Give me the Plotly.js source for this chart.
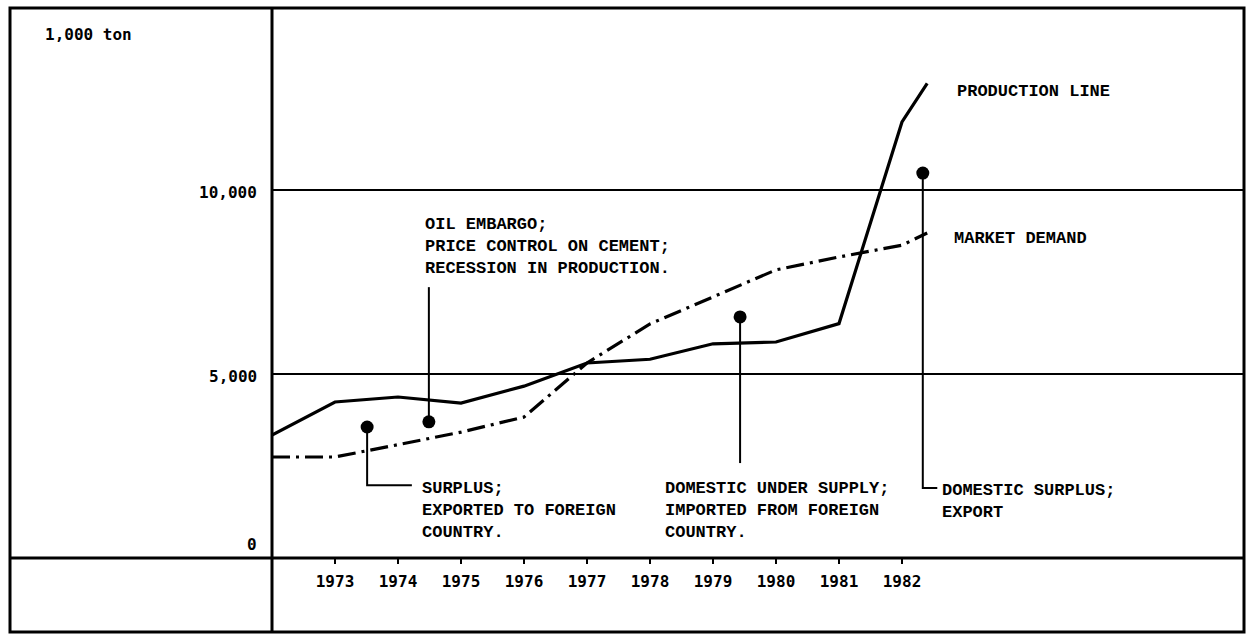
<!DOCTYPE html>
<html><head><meta charset="utf-8">
<script src="https://cdn.plot.ly/plotly-3.0.1.min.js"></script>
<style>html,body{margin:0;padding:0;background:#fff}#chart{width:1251px;height:634px}</style>
</head><body><div id="chart"></div>
<script>
// ---- data ----
const xPoints = [1972, 1973, 1974, 1975, 1976, 1977, 1978, 1979, 1980, 1981, 1982, 1982.4];
const production = [3340, 4240, 4375, 4210, 4670, 5300, 5400, 5820, 5870, 6370, 11850, 12900];
const marketDemand = [2745, 2745, 3080, 3420, 3830, 5300, 6360, 7100, 7830, 8180, 8500, 8830];
const xTickVals = [1973, 1974, 1975, 1976, 1977, 1978, 1979, 1980, 1981, 1982];
const xTickText = ['1973', '1974', '1975', '1976', '1977', '1978', '1979', '1980', '1981', '1982'];
const yTickVals = [0, 5000, 10000];
const yTickText = ['0', '5,000', '10,000'];
const calloutX = [1973.51, 1974.49, 1979.43, 1982.33];
const calloutY = [3560, 3700, 6550, 10460];
const leaderEndY = [1980, 7360, 2580, 1900];
const hookEndX = [1974.22, null, null, 1982.56];
const calloutText = [
  'SURPLUS;<br>EXPORTED TO FOREIGN<br>COUNTRY.',
  'OIL EMBARGO;<br>PRICE CONTROL ON CEMENT;<br>RECESSION IN PRODUCTION.',
  'DOMESTIC UNDER SUPPLY;<br>IMPORTED FROM FOREIGN<br>COUNTRY.',
  'DOMESTIC SURPLUS;<br>EXPORT'
];
const seriesLabels = ['PRODUCTION LINE', 'MARKET DEMAND'];
const unitLabel = '1,000 ton';

// ---- geometry (pixels of the 1251x634 page) ----
const W = 1251, H = 634;
const L = 272, R = 1244, T = 8, B = 558;
const OL = 10, OB = 632;
const px = x => (x - L) / (R - L);
const py = y => (B - y) / (B - T);
const xRange = [1972, 1972 + (R - L) / 63];
const yRange = [0, (B - T) / 0.0368];

const typeFont = {family: 'Liberation Mono, Courier New, monospace', size: 17, color: '#000', weight: 'bold'};
const labelFont = {family: 'DejaVu Sans Mono, monospace', size: 16, color: '#000', weight: 'bold'};

const traces = [];
traces.push({x: xPoints, y: production, mode: 'lines', line: {color: '#000', width: 3.2}, hoverinfo: 'skip'});
traces.push({x: xPoints, y: marketDemand, mode: 'lines', line: {color: '#000', width: 3.2, dash: '18px,6px,3px,6px'}, hoverinfo: 'skip'});
calloutX.forEach((cx, i) => {
  const xs = [cx, cx], ys = [calloutY[i], leaderEndY[i]];
  if (hookEndX[i] !== null) { xs.push(hookEndX[i]); ys.push(leaderEndY[i]); }
  traces.push({x: xs, y: ys, mode: 'lines', line: {color: '#000', width: 2}, hoverinfo: 'skip'});
});
traces.push({x: calloutX, y: calloutY, mode: 'markers', marker: {color: '#000', size: 13}, hoverinfo: 'skip'});

const textPos = [[420, 510], [423, 246], [663, 510], [940, 501]];
const annotations = calloutText.map((t, i) => ({
  text: t, xref: 'paper', yref: 'paper', x: px(textPos[i][0]), y: py(textPos[i][1]),
  xanchor: 'left', yanchor: 'middle', align: 'left', showarrow: false, font: typeFont
}));
annotations.push({text: seriesLabels[0], xref: 'paper', yref: 'paper', x: px(955), y: py(92), xanchor: 'left', yanchor: 'middle', showarrow: false, font: typeFont});
annotations.push({text: seriesLabels[1], xref: 'paper', yref: 'paper', x: px(952), y: py(238), xanchor: 'left', yanchor: 'middle', showarrow: false, font: typeFont});
annotations.push({text: unitLabel, xref: 'paper', yref: 'paper', x: px(43), y: py(35), xanchor: 'left', yanchor: 'middle', showarrow: false, font: labelFont});
yTickVals.forEach((v, i) => {
  annotations.push({text: yTickText[i], xref: 'paper', yref: 'y', x: px(259), y: v, xanchor: 'right', yanchor: 'middle',
    yshift: v === 0 ? 14 : -2, showarrow: false, font: labelFont});
});

const frameLine = {color: '#000', width: 3};
const shapes = [
  {type: 'rect', xref: 'paper', yref: 'paper', x0: px(OL), x1: px(R), y0: py(OB), y1: py(T), line: frameLine},
  {type: 'line', xref: 'paper', yref: 'paper', x0: px(L), x1: px(L), y0: py(OB), y1: py(T), line: frameLine},
  {type: 'line', xref: 'paper', yref: 'paper', x0: px(OL), x1: px(R), y0: py(B), y1: py(B), line: frameLine}
];

const layout = {
  width: W, height: H,
  margin: {l: L, r: W - R, t: T, b: H - B, pad: 0},
  paper_bgcolor: '#fff', plot_bgcolor: '#fff',
  showlegend: false,
  xaxis: {range: xRange, showgrid: false, zeroline: false, showline: false,
    tickmode: 'array', tickvals: xTickVals, ticktext: xTickText,
    ticks: 'outside', ticklen: 5, tickwidth: 2, tickcolor: '#000',
    tickfont: labelFont, ticklabelstandoff: 4},
  yaxis: {range: yRange, showgrid: true, gridcolor: '#000', gridwidth: 2, zeroline: false, showline: false,
    tickmode: 'array', tickvals: yTickVals, showticklabels: false, ticks: ''},
  annotations: annotations,
  shapes: shapes
};

Plotly.newPlot('chart', traces, layout, {staticPlot: true, displayModeBar: false});
</script>
</body></html>
